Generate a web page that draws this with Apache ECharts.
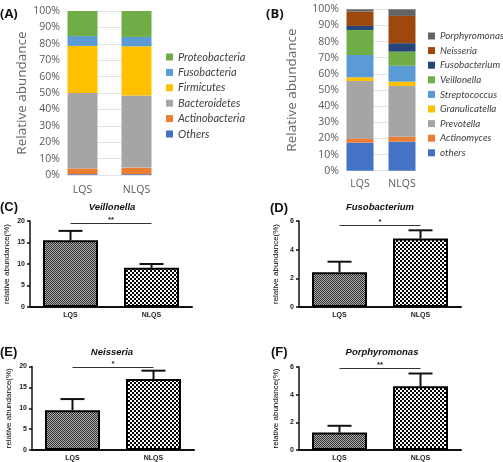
<!DOCTYPE html>
<html><head><meta charset="utf-8">
<script src="https://cdn.jsdelivr.net/npm/echarts@6/dist/echarts.min.js"></script>
<style>html,body{margin:0;padding:0;background:#fff}#c{width:503px;height:462px}</style>
</head><body><div id="c"></div>
<script>
// ---------- data ----------
var groups = ['LQS', 'NLQS'];

// Panel A (phylum level, stacked %)
var phylaNames = ['Others', 'Actinobacteria', 'Bacteroidetes', 'Firmicutes', 'Fusobacteria', 'Proteobacteria'];
var phylaLQS  = [0.5, 3.5, 46.0, 28.7, 6.0, 15.3];
var phylaNLQS = [0.5, 4.0, 44.0, 30.0, 5.7, 15.8];
var phylaColors = ['#4472C4', '#ED7D31', '#A5A5A5', '#FFC000', '#5B9BD5', '#70AD47'];

// Panel B (genus level, stacked %)
var genusNames = ['others', 'Actinomyces', 'Prevotella', 'Granulicatella', 'Streptococcus', 'Veillonella', 'Fusobacterium', 'Neisseria', 'Porphyromonas'];
var genusLQS  = [17.4, 2.6, 35.6, 2.3, 13.8, 15.5, 2.5, 8.9, 1.4];
var genusNLQS = [18.0, 3.0, 31.5, 2.7, 9.8, 8.8, 5.2, 16.9, 4.1];
var genusColors = ['#4472C4', '#ED7D31', '#A5A5A5', '#FFC000', '#5B9BD5', '#70AD47', '#264478', '#9E480E', '#636363'];

var pctTicks = { min: 0, max: 100, interval: 10 };

// Panels C-F (mean, SEM)
var panelTitles = ['Veillonella', 'Fusobacterium', 'Neisseria', 'Porphyromonas'];
var meansC = [15.5, 9.1];  var errC = [2.2, 0.9];
var meansD = [2.42, 4.78]; var errD = [0.74, 0.57];
var meansE = [9.5, 17.0];  var errE = [2.7, 2.0];
var meansF = [1.26, 4.6];  var errF = [0.49, 0.93];
var yMaxes = [20, 6, 20, 6];
var yIntervals = [5, 2, 5, 2];
var sigLevels = [19.4, 5.7, 19.8, 5.9];
var sigLabels = ['**', '*', '*', '**'];

// ---------- patterns ----------
function makePattern(cell, dark, light) {
  var c = document.createElement('canvas');
  c.width = c.height = cell * 2;
  var ctx = c.getContext('2d');
  ctx.fillStyle = light; ctx.fillRect(0, 0, cell * 2, cell * 2);
  ctx.fillStyle = dark; ctx.fillRect(0, 0, cell, cell); ctx.fillRect(cell, cell, cell, cell);
  return { image: c, repeat: 'repeat' };
}
var patLQS = makePattern(1, '#333333', '#aaaaaa');
var patNLQS = makePattern(2, '#000000', '#ffffff');

// ---------- layout ----------
var grids = [
  { left: 68, top: 11, width: 84, height: 164 },      // 0 A display
  { left: 55.5, top: 11, width: 108, height: 164 },   // 1 A bars
  { left: 347, top: 9.3, width: 69, height: 161.4 },  // 2 B display
  { left: 339, top: 9.3, width: 84, height: 161.4 },  // 3 B bars
  { left: 30, top: 221, width: 162, height: 86 },     // 4 C
  { left: 299, top: 221, width: 162, height: 86 },    // 5 D
  { left: 32, top: 366.5, width: 162, height: 86 },   // 6 E
  { left: 299, top: 367, width: 162, height: 85 }     // 7 F
];

var xAxes = [], yAxes = [], series = [];
var topFont = '"Open Sans", "Noto Sans", sans-serif';
var legFont = 'Lato, "Open Sans", sans-serif';
var botFont = '"Liberation Sans", Arial, sans-serif';

function pctY(grid, showLabels, nameGap) {
  return {
    gridIndex: grid, type: 'value', min: pctTicks.min, max: pctTicks.max, interval: pctTicks.interval,
    show: showLabels,
    axisLine: { show: false }, axisTick: { show: false },
    axisLabel: { show: showLabels, formatter: '{value}%', color: '#595959', fontSize: 10.5, fontFamily: topFont, margin: 8 },
    splitLine: { show: showLabels, lineStyle: { color: '#e3e3e3', width: 1 } },
    name: showLabels ? 'Relative abundance' : '', nameLocation: 'middle', nameGap: nameGap,
    nameTextStyle: { color: '#666666', fontSize: 13.5, fontFamily: topFont }
  };
}
// A
xAxes.push({ gridIndex: 0, type: 'category', data: groups, show: false });
yAxes.push(pctY(0, true, 38));
xAxes.push({ gridIndex: 1, type: 'category', data: groups, axisLine: { show: false }, axisTick: { show: false },
  axisLabel: { color: '#595959', fontSize: 10.5, fontFamily: topFont, margin: 10 } });
yAxes.push(pctY(1, false, 0));
// B
xAxes.push({ gridIndex: 2, type: 'category', data: groups, show: false });
yAxes.push(pctY(2, true, 48));
xAxes.push({ gridIndex: 3, type: 'category', data: groups, axisLine: { show: false }, axisTick: { show: false },
  axisLabel: { color: '#595959', fontSize: 10.5, fontFamily: topFont, margin: 8 } });
yAxes.push(pctY(3, false, 0));

phylaNames.forEach(function (n, i) {
  series.push({ type: 'bar', name: n, stack: 'A', xAxisIndex: 1, yAxisIndex: 1, barWidth: 30,
    itemStyle: { color: phylaColors[i] }, data: [phylaLQS[i], phylaNLQS[i]] });
});
genusNames.forEach(function (n, i) {
  series.push({ type: 'bar', name: n, stack: 'B', xAxisIndex: 3, yAxisIndex: 3, barWidth: 27,
    itemStyle: { color: genusColors[i] }, data: [genusLQS[i], genusNLQS[i]] });
});

// C-F
var meansAll = [meansC, meansD, meansE, meansF];
var errAll = [errC, errD, errE, errF];
for (var p = 0; p < 4; p++) {
  var gi = 4 + p;
  xAxes.push({ gridIndex: gi, type: 'category', data: groups,
    axisLine: { lineStyle: { color: '#111', width: 2 } }, axisTick: { show: false },
    axisLabel: { color: '#222', fontSize: 7, fontWeight: 'bold', fontFamily: botFont, margin: 5 } });
  yAxes.push({ gridIndex: gi, type: 'value', min: 0, max: yMaxes[p], interval: yIntervals[p],
    axisLine: { show: true, lineStyle: { color: '#111', width: 1.5 } },
    axisTick: { show: true, length: 3, lineStyle: { color: '#111', width: 1.5 } },
    axisLabel: { color: '#222', fontSize: 7, fontWeight: 'bold', fontFamily: botFont, margin: 5 },
    splitLine: { show: false },
    name: 'relative abundance(%)', nameLocation: 'middle', nameGap: 19,
    nameTextStyle: { color: '#000', fontSize: 8, fontFamily: botFont } });
  series.push({ type: 'bar', name: panelTitles[p] + ' bars', xAxisIndex: gi, yAxisIndex: gi, barWidth: 55,
    itemStyle: { borderColor: '#000', borderWidth: 2 },
    data: [{ value: meansAll[p][0], itemStyle: { color: patLQS } }, { value: meansAll[p][1], itemStyle: { color: patNLQS } }],
    markLine: { symbol: 'none', silent: true,
      lineStyle: { color: '#333', width: 1, type: 'solid' },
      label: { show: true, position: 'middle', formatter: sigLabels[p], color: '#222', fontSize: 8, fontWeight: 'bold', distance: 0 },
      data: [[{ coord: [groups[0], sigLevels[p]] }, { coord: [groups[1], sigLevels[p]] }]] } });
  series.push({ type: 'custom', name: panelTitles[p] + ' err', xAxisIndex: gi, yAxisIndex: gi, z: 5,
    data: groups.map(function (g, k) { return [k, meansAll[p][k], errAll[p][k]]; }),
    renderItem: function (params, api) {
      var x = api.value(0), m = api.value(1), e = api.value(2);
      var base = api.coord([x, m]), top = api.coord([x, m + e]);
      return { type: 'group', children: [
        { type: 'line', shape: { x1: base[0], y1: base[1], x2: base[0], y2: top[1] }, style: { stroke: '#111', lineWidth: 2 } },
        { type: 'line', shape: { x1: base[0] - 12, y1: top[1], x2: base[0] + 12, y2: top[1] }, style: { stroke: '#111', lineWidth: 2 } }
      ] };
    } });
}

var legendA = phylaNames.slice().reverse();
var legendB = genusNames.slice().reverse();

function txt(x, y, t, size, style, weight, align, family) {
  return { type: 'text', x: x, y: y, style: { text: t, fontSize: size, fontStyle: style || 'normal', fontWeight: weight || 'bold',
    fill: '#111', align: align || 'left', verticalAlign: 'middle', fontFamily: family || botFont } };
}

var option = {
  backgroundColor: '#fff',
  animation: false,
  grid: grids,
  xAxis: xAxes,
  yAxis: yAxes,
  legend: [
    { data: legendA, orient: 'vertical', left: 161, top: 44.3, itemWidth: 7, itemHeight: 7, itemGap: 0, icon: 'rect',
      textStyle: { color: '#404040', fontSize: 11, fontStyle: 'italic', fontFamily: legFont, lineHeight: 15.4 }, selectedMode: false },
    { data: legendB, orient: 'vertical', left: 423, top: 23.7, itemWidth: 7, itemHeight: 7, itemGap: 0, icon: 'rect',
      textStyle: { color: '#404040', fontSize: 9.8, fontStyle: 'italic', fontFamily: legFont, lineHeight: 14.6 }, selectedMode: false }
  ],
  graphic: [
    txt(0, 14, '(A)', 13, 'normal', 'bold', 'left', topFont),
    txt(266, 14, '(B)', 13, 'normal', 'bold', 'left', topFont),
    txt(0, 207, '(C)', 13, 'normal', 'bold'),
    txt(270, 208, '(D)', 13, 'normal', 'bold'),
    txt(0, 352, '(E)', 13, 'normal', 'bold'),
    txt(271, 352, '(F)', 13, 'normal', 'bold'),
    txt(112, 207, panelTitles[0], 9.5, 'italic', 'bold', 'center'),
    txt(380, 207, panelTitles[1], 9.5, 'italic', 'bold', 'center'),
    txt(112, 352, panelTitles[2], 9.5, 'italic', 'bold', 'center'),
    txt(382, 352, panelTitles[3], 9.5, 'italic', 'bold', 'center')
  ],
  series: series
};
var chart = echarts.init(document.getElementById('c'), null, { renderer: 'canvas' });
chart.setOption(option);
</script>
</body></html>
